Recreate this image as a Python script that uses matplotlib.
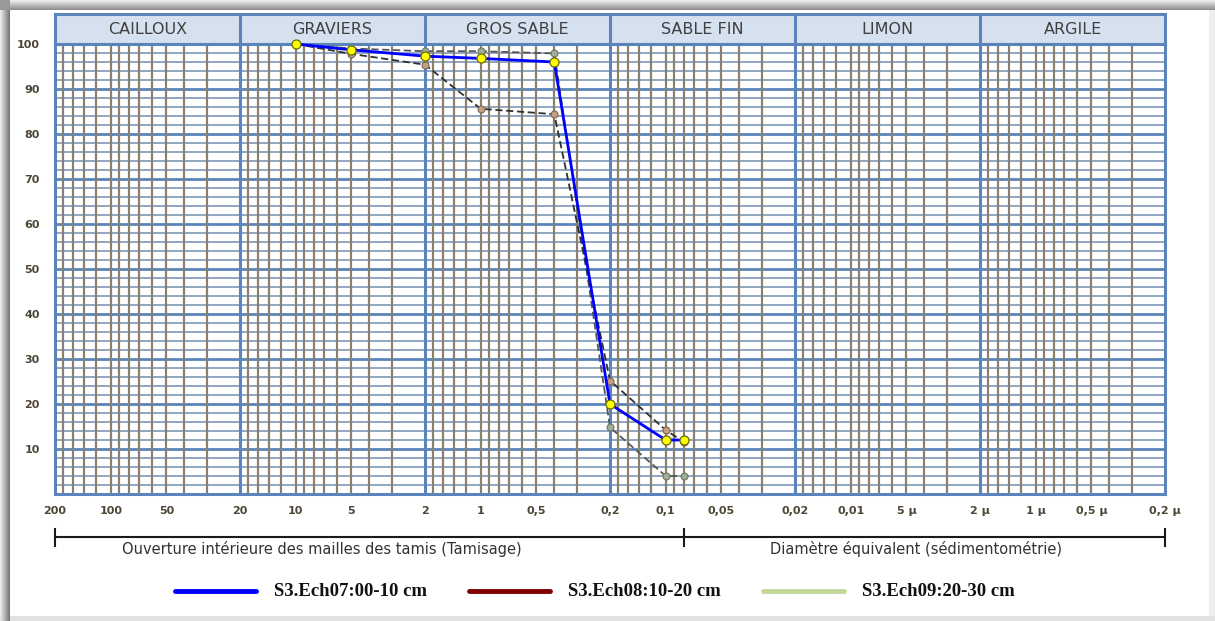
import numpy as np
import matplotlib

matplotlib.use("Agg")

import matplotlib.pyplot as plt
from matplotlib.lines import Line2D
from matplotlib.transforms import blended_transform_factory

# Sieve openings (mm) and cumulative passing (%)
sieves = [10, 5, 2, 1, 0.4, 0.2, 0.1, 0.08]
ech07 = [100, 98.7, 97.3, 96.8, 96.0, 20.0, 12.0, 12.0]
ech08 = [100, 97.8, 95.4, 85.6, 84.4, 25.2, 14.2, 11.6]
ech09 = [100, 99.0, 98.4, 98.4, 97.9, 14.8, 4.0, 4.0]

series_names = ["S3.Ech07:00-10 cm", "S3.Ech08:10-20 cm", "S3.Ech09:20-30 cm"]
legend_colors = ["#0000ff", "#800000", "#c4d79b"]

bands = ["CAILLOUX", "GRAVIERS", "GROS SABLE", "SABLE FIN", "LIMON", "ARGILE"]
band_edges = [200, 20, 2, 0.2, 0.02, 0.002, 0.0002]

xtick_values = [200, 100, 50, 20, 10, 5, 2, 1, 0.5, 0.2, 0.1, 0.05, 0.02, 0.01,
                0.005, 0.002, 0.001, 0.0005, 0.0002]
xtick_labels = ["200", "100", "50", "20", "10", "5", "2", "1", "0,5", "0,2", "0,1",
                "0,05", "0,02", "0,01", "5 µ", "2 µ", "1 µ", "0,5 µ", "0,2 µ"]
ytick_values = [10, 20, 30, 40, 50, 60, 70, 80, 90, 100]

minor_mult = [1.5, 2, 2.5, 3, 3.5, 4, 4.5, 5, 6, 7, 8, 9]

W, H = 1215, 621
fig = plt.figure(figsize=(W / 100, H / 100), dpi=100)

# shadowed frame around the picture
bg = np.ones((H, W))
for i in range(10):
    bg[:, i] = np.minimum(bg[:, i], 0.92 - 0.05 * i)
    bg[i, :] = np.minimum(bg[i, :], 0.92 - 0.04 * i)
bg[:, W - 6:] = np.minimum(bg[:, W - 6:], 0.93)
bg[H - 5:, :] = np.minimum(bg[H - 5:, :], 0.88)
bg[:10, :10] = 0.6
axbg = fig.add_axes([0, 0, 1, 1], zorder=-5)
axbg.imshow(bg, cmap="gray", vmin=0, vmax=1, aspect="auto", interpolation="bilinear")
axbg.axis("off")

blue = "#5a84ba"
hgrid = "#7e97b9"
vgrid = "#8a8070"
label_col = "#4d4535"

left, right, top, bottom = 55, 1165, 44, 494

# fraction header
hx = fig.add_axes([left / W, 1 - top / H, (right - left) / W, 30 / H], zorder=1)
hx.set_xscale("log")
hx.set_xlim(band_edges[0], band_edges[-1])
hx.set_ylim(0, 1)
hx.set_facecolor("#d6e1f0")
for e in band_edges[1:-1]:
    hx.axvline(e, color=blue, lw=2.2)
for name, a, b in zip(bands, band_edges[:-1], band_edges[1:]):
    hx.text(np.sqrt(a * b), 0.48, name, ha="center", va="center", fontsize=11.5,
            color="#3f3f3f")
hx.set_xticks([])
hx.set_yticks([])
hx.minorticks_off()
for s in hx.spines.values():
    s.set_color(blue)
    s.set_linewidth(2.2)

ax = fig.add_axes([left / W, 1 - bottom / H, (right - left) / W, (bottom - top) / H],
                  zorder=2)
ax.set_xscale("log")
ax.set_xlim(band_edges[0], band_edges[-1])
ax.set_ylim(0, 100)

# grid
for y in range(2, 100, 2):
    if y % 10 == 0:
        ax.axhline(y, color=blue, lw=2.0, zorder=1)
    else:
        ax.axhline(y, color=hgrid, lw=1.2, zorder=1)
for d in band_edges[1:]:
    for m in minor_mult:
        ax.axvline(d * m, color=vgrid, lw=1.6, zorder=1.5)
for e in band_edges[1:-1]:
    ax.axvline(e, color=blue, lw=2.2, zorder=2)

for s in ax.spines.values():
    s.set_color(blue)
    s.set_linewidth(2.2)

ax.plot(sieves, ech09, color="#555555", lw=1.3, ls=(0, (4, 2)), marker="o", ms=5,
        mfc="#9fae94", mec="#6f7868", mew=0.8, zorder=4, clip_on=False)
ax.plot(sieves, ech08, color="#303030", lw=1.3, ls=(0, (4, 2)), marker="o", ms=5,
        mfc="#c99e7e", mec="#7d6a5a", mew=0.8, zorder=4, clip_on=False)
ax.plot(sieves, ech07, color="#0000ff", lw=2.0, marker="o", ms=6.5,
        mfc="#ffff00", mec="#6b6b00", mew=0.9, zorder=5, clip_on=False)

ax.set_xticks(xtick_values)
ax.set_xticklabels(xtick_labels)
ax.minorticks_off()
ax.set_yticks(ytick_values)
ax.set_yticklabels([str(v) for v in ytick_values])
ax.tick_params(axis="both", length=0, labelsize=8, labelcolor=label_col)
ax.tick_params(axis="x", pad=9)
ax.tick_params(axis="y", pad=11)
for t in ax.get_xticklabels() + ax.get_yticklabels():
    t.set_fontweight("bold")

# brackets below axis
tr = blended_transform_factory(ax.transData, fig.transFigure)
yb = 1 - 537 / H
fig.add_artist(Line2D([band_edges[0], band_edges[-1]], [yb, yb], transform=tr,
                      color="#1a1a1a", lw=1.5))
for xv in [band_edges[0], sieves[-1], band_edges[-1]]:
    fig.add_artist(Line2D([xv, xv], [1 - 529 / H, 1 - 546 / H], transform=tr,
                          color="#1a1a1a", lw=1.5))
fig.text(322 / W, 1 - 549 / H, "Ouverture intérieure des mailles des tamis (Tamisage)",
         ha="center", va="center", fontsize=10.5, color="#333333")
fig.text(916 / W, 1 - 549 / H, "Diamètre équivalent (sédimentométrie)",
         ha="center", va="center", fontsize=10.5, color="#333333")

# legend
leg_x = [175, 469, 763]
ly = 1 - 591 / H
for x0, name, col in zip(leg_x, series_names, legend_colors):
    fig.add_artist(Line2D([x0 / W, (x0 + 81) / W], [ly, ly], color=col, lw=3.5,
                          solid_capstyle="round"))
    fig.text((x0 + 99) / W, ly, name, ha="left", va="center", fontsize=13.5,
             fontweight="bold", family="Liberation Serif", color="#111111")

fig.savefig("out.png", dpi=100)
